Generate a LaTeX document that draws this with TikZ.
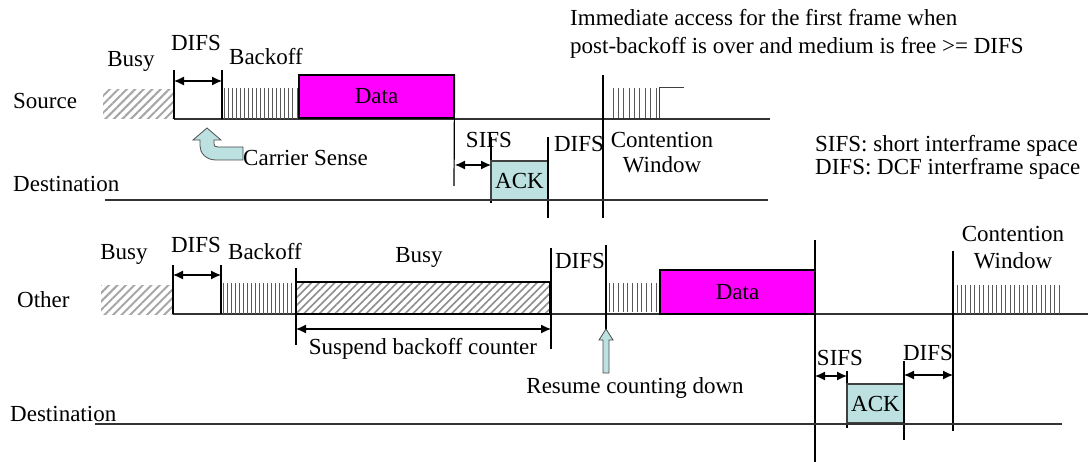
\documentclass[tikz,border=0pt]{standalone}
\usepackage{fontspec}
\setmainfont{Liberation Serif}
\usetikzlibrary{arrows.meta,patterns.meta}
\definecolor{ackblue}{HTML}{BDE1E1}
\definecolor{datamag}{HTML}{FF00FF}
\begin{document}
\begin{tikzpicture}[x=1pt,y=-1pt,
  font=\fontsize{23}{27}\selectfont,
  lbl/.style={inner sep=0pt, anchor=base},
  lblw/.style={inner sep=0pt, anchor=base west},
  tick/.style={line width=1.2pt, black},
  baseln/.style={line width=1.3pt, black!80},
  dim/.style={line width=1.2pt, {Latex[length=10pt,width=9pt]}-{Latex[length=10pt,width=9pt]}},
  stripe/.style={line width=1pt, black!65},
  hatchA/.style={pattern={Lines[angle=45,distance=6pt,line width=2pt]}, pattern color=gray!70},
  hatchB/.style={pattern={Lines[angle=45,distance=5.5pt,line width=1.6pt]}, pattern color=gray!90},
  databox/.style={draw=black, line width=1.2pt, fill=datamag, inner sep=0pt},
  ackbox/.style={draw=black!75, line width=1.2pt, fill=ackblue, inner sep=0pt, minimum width=57pt, minimum height=39pt},
  blue arrow/.style={fill=ackblue, draw=black!70, line width=0.8pt}
]
\useasboundingbox (0,0) rectangle (1089,462);

% ================= Source / Destination (top) =================
\fill[hatchA] (103,90) rectangle (174,119);
\draw[baseln] (174,119) -- (770,119);
\coordinate (sa) at (174,70); \coordinate (sab) at (174,119);
\coordinate (sb) at (222,70); \coordinate (sbb) at (222,119);
\draw[tick] (sa) -- (sab);
\draw[tick] (sb) -- (sbb);
\draw[dim] (174,81) -- (222,81);
\foreach \i in {0,...,18} \draw[stripe] ({224+\i*73/18},88) -- ++(0,31);

\node[databox, minimum width=155pt, minimum height=43pt] (sdata) at (376.5,96.5) {Data};
\coordinate (sdend) at (454,186);
\draw[tick] (sdata.north east) -- (sdend);

\coordinate (sifsA) at (491,137); \coordinate (sifsAb) at (491,203);
\draw[tick] (sifsA) -- (sifsAb);
\draw[dim] (455,165) -- (491,165);
\node[ackbox] (sack) at (519.5,180.5) {ACK};
\coordinate (difsA) at (548,137); \coordinate (difsAb) at (548,218);
\draw[tick] (difsA) -- (difsAb);
\coordinate (cwA) at (603,75); \coordinate (cwAb) at (603,218);
\draw[tick] (cwA) -- (cwAb);
\foreach \i in {0,...,8} \draw[stripe] ({613+\i*43/8},88) -- ++(0,30);
\draw[line width=1pt, black!75] (659,118) -- (659,88) -- (684,88);

\coordinate (dtA) at (105,200); \coordinate (dtB) at (768,200);
\draw[baseln] (dtA) -- (dtB);

% Carrier sense arrow
\draw[blue arrow] (207,128) -- (221,140) -- (214,140) -- (214,144)
  .. controls (214,146) and (215,147) .. (218,147) -- (243,147) -- (243,160) -- (216,160)
  .. controls (206,160) and (200,153) .. (200,146) -- (200,140) -- (193,140) -- cycle;

% labels top
\node[lblw] (tsource) at (13,109) {Source};
\node[lbl] (tbusy1) at (131,67) {Busy};
\node[lbl] (tdifs1) at (196,51) {DIFS};
\node[lbl] (tback1) at (266,65) {Backoff};
\node[lblw] (tcs) at (243,166) {Carrier Sense};
\node[lblw] (tdest1) at (13,192) {Destination};
\node[lbl] (tsifs1) at (489,148) {SIFS};
\node[lbl] (tdifs2) at (579,152) {DIFS};
\node[lbl] (tcw1a) at (662,148) {Contention};
\node[lbl] (tcw1b) at (662,173) {Window};
\node[lblw] (timm1) at (570,26) {Immediate access for the first frame when};
\node[lblw] (timm2) at (570,54) {post-backoff is over and medium is free >= DIFS};
\node[lblw] (tleg1) at (815,152) {SIFS: short interframe space};
\node[lblw] (tleg2) at (815,175) {DIFS: DCF interframe space};

% ================= Other / Destination (bottom) =================
\fill[hatchA] (101,285) rectangle (173,314);
\draw[baseln] (173,314) -- (1088,314);
\coordinate (oa) at (173,265); \coordinate (oab) at (173,314);
\coordinate (ob) at (221,265); \coordinate (obb) at (221,314);
\draw[tick] (oa) -- (oab);
\draw[tick] (ob) -- (obb);
\draw[dim] (173,275) -- (221,275);
\foreach \i in {0,...,18} \draw[stripe] ({223+\i*72/18},283) -- ++(0,31);

\coordinate (susA) at (296,268); \coordinate (susAb) at (296,345);
\draw[tick] (susA) -- (susAb);
\draw[hatchB] (296,282) rectangle (550,314);
\draw[line width=1.2pt] (296,282) rectangle (550,314);
\coordinate (susB) at (551,248); \coordinate (susBb) at (551,349);
\draw[tick] (susB) -- (susBb);
\draw[dim] (296,329) -- (551,329);

\coordinate (resA) at (606,245); \coordinate (resAb) at (606,330);
\draw[tick] (resA) -- (resAb);
\foreach \i in {0,...,10} \draw[stripe] ({609+\i*47/10},283) -- ++(0,29);

\node[databox, minimum width=155pt, minimum height=44pt] (odata) at (737.5,292) {Data};
\coordinate (oend) at (815,240); \coordinate (oendb) at (815,462);
\draw[tick] (oend) -- (oendb);
\coordinate (osifs) at (847,371); \coordinate (osifsb) at (847,428);
\draw[tick] (osifs) -- (osifsb);
\draw[dim] (815,376) -- (847,376);
\node[ackbox] (oack) at (875.5,403.5) {ACK};
\coordinate (odifs) at (904,361); \coordinate (odifsb) at (904,440);
\draw[tick] (odifs) -- (odifsb);
\draw[dim] (904,375) -- (953,375);
\coordinate (ocw) at (953,251); \coordinate (ocwb) at (953,431);
\draw[tick] (ocw) -- (ocwb);
\foreach \i in {0,...,23} \draw[stripe] ({957+\i*102/23},285) -- ++(0,29);

\coordinate (dbA) at (95,424); \coordinate (dbB) at (1062,424);
\draw[baseln] (dbA) -- (dbB);

% Resume arrow
\draw[blue arrow] (606,329) -- (613,340) -- (609,340) -- (609,373) -- (603,373) -- (603,340) -- (599,340) -- cycle;

% labels bottom
\node[lblw] (tother) at (17,307) {Other};
\node[lbl] (tbusy2) at (124,260) {Busy};
\node[lbl] (tdifs3) at (196,253) {DIFS};
\node[lbl] (tback2) at (265,260) {Backoff};
\node[lbl] (tbusy3) at (419,263) {Busy};
\node[lbl] (tsusp) at (423,354) {Suspend backoff counter};
\node[lbl] (tdifs4) at (580,269) {DIFS};
\node[lbl] (tres) at (635,393) {Resume counting down};
\node[lbl] (tsifs2) at (840,365) {SIFS};
\node[lbl] (tdifs5) at (928,360) {DIFS};
\node[lbl] (tcw2a) at (1013,242) {Contention};
\node[lbl] (tcw2b) at (1013,269) {Window};
\node[lblw] (tdest2) at (10,421) {Destination};
\end{tikzpicture}
\end{document}
